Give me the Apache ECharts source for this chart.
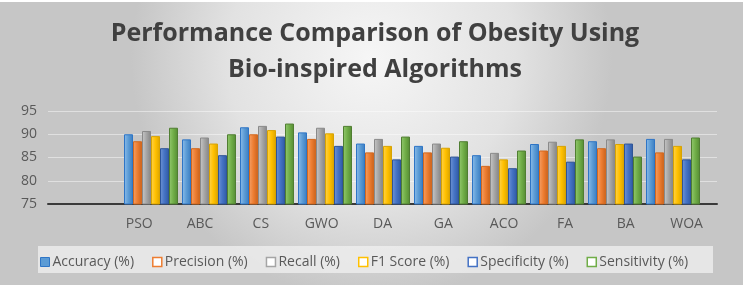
<!DOCTYPE html>
<html>
<head>
<meta charset="utf-8">
<script src="https://cdn.jsdelivr.net/npm/echarts@6/dist/echarts.min.js"></script>
<style>
  html, body { margin: 0; padding: 0; background: #fff; }
  #chart { width: 750px; height: 291px; }
</style>
</head>
<body>
<div id="chart"></div>
<script>
// categories
const algorithms = ['PSO', 'ABC', 'CS', 'GWO', 'DA', 'GA', 'ACO', 'FA', 'BA', 'WOA']
// values (%)
const accuracy    = [90.0, 88.9, 91.5, 90.4, 88.0, 87.5, 85.5, 87.9, 88.5, 89.0]
const precision   = [88.5, 87.0, 90.0, 89.0, 86.1, 86.1, 83.2, 86.5, 87.0, 86.1]
const recall      = [90.7, 89.3, 91.8, 91.4, 89.0, 88.0, 86.0, 88.4, 88.9, 89.0]
const f1Score     = [89.6, 88.0, 90.9, 90.2, 87.5, 87.1, 84.6, 87.5, 87.9, 87.5]
const specificity = [87.0, 85.5, 89.5, 87.5, 84.6, 85.2, 82.7, 84.1, 88.0, 84.6]
const sensitivity = [91.4, 90.0, 92.3, 91.8, 89.5, 88.5, 86.5, 88.9, 85.2, 89.3]
const yTicks = { min: 75, max: 95, interval: 5 }

const seriesList = [
  { name: 'Accuracy (%)',    data: accuracy,    c: ['#8dbdea', '#5b9bd5', '#3a7cc0'], border: '#2e75c6' },
  { name: 'Precision (%)',   data: precision,   c: ['#f5a066', '#ed7d31', '#c9621c'], border: '#d2691f' },
  { name: 'Recall (%)',      data: recall,      c: ['#c8c8c8', '#a5a5a5', '#858585'], border: '#8a8a8a' },
  { name: 'F1 Score (%)',    data: f1Score,     c: ['#ffd34d', '#ffc000', '#d9a300'], border: '#d9a300' },
  { name: 'Specificity (%)', data: specificity, c: ['#6f94d6', '#4472c4', '#2f5aa3'], border: '#2f5597' },
  { name: 'Sensitivity (%)', data: sensitivity, c: ['#93c96f', '#70ad47', '#548a33'], border: '#507e32' }
]

const font = 'Open Sans'
const chart = echarts.init(document.getElementById('chart'))

const option = {
  backgroundColor: '#fff',
  animation: false,
  graphic: [
    {
      type: 'rect', z: -10, silent: true,
      shape: { x: 0, y: 2, width: 743, height: 283 },
      style: {
        fill: new echarts.graphic.RadialGradient(0.5, 0.2, 0.85, [
          { offset: 0, color: '#f6f6f6' },
          { offset: 0.6, color: '#e2e2e2' },
          { offset: 1, color: '#c6c6c6' }
        ])
      }
    },
    {
      type: 'rect', z: -9, silent: true,
      shape: { x: 38, y: 246, width: 675, height: 27 },
      style: { fill: 'rgba(240,240,240,0.75)' }
    }
  ],
  title: {
    text: 'Performance Comparison of Obesity Using\nBio-inspired Algorithms',
    left: 'center',
    top: 11,
    textStyle: {
      fontFamily: font,
      fontWeight: 'bold',
      fontSize: 25,
      lineHeight: 36,
      color: '#404040'
    }
  },
  legend: {
    top: 250,
    left: 35,
    itemWidth: 9,
    itemHeight: 9,
    itemGap: 18,
    icon: 'rect',
    textStyle: { fontFamily: font, fontSize: 14, color: '#595959', padding: [0, 0, 0, -2] },
    data: seriesList.map((s, i) => ({
      name: s.name,
      itemStyle: i === 0
        ? { color: s.c[1], borderColor: s.border, borderWidth: 1 }
        : { color: '#fff', borderColor: s.c[1], borderWidth: 1.5 }
    }))
  },
  grid: [
    { left: 122, right: 48, top: 111, bottom: 87 },
    { left: 48, right: 33, top: 111, bottom: 87 }
  ],
  xAxis: [
    {
      type: 'category', gridIndex: 0, data: algorithms,
      axisLine: { show: false }, axisTick: { show: false }, axisLabel: { show: false }
    },
    {
      type: 'category', gridIndex: 1, data: [''].concat(algorithms),
      axisLine: { lineStyle: { color: '#3a3a3a', width: 2 } },
      axisTick: { show: false },
      axisLabel: { fontFamily: font, fontSize: 14, color: '#595959', margin: 13 }
    }
  ],
  yAxis: [
    {
      type: 'value', gridIndex: 0, min: yTicks.min, max: yTicks.max, interval: yTicks.interval,
      axisLine: { show: false }, axisTick: { show: false }, axisLabel: { show: false },
      splitLine: { show: false }
    },
    {
      type: 'value', gridIndex: 1, min: yTicks.min, max: yTicks.max, interval: yTicks.interval,
      axisLine: { show: false }, axisTick: { show: false },
      axisLabel: { fontFamily: font, fontSize: 14, color: '#595959', margin: 11 },
      splitLine: { lineStyle: { color: 'rgba(255,255,255,0.45)', width: 1 } }
    }
  ],
  series: seriesList.map(s => ({
    name: s.name,
    type: 'bar',
    xAxisIndex: 0,
    yAxisIndex: 0,
    barWidth: 9,
    barGap: '0%',
    data: s.data,
    itemStyle: {
      color: new echarts.graphic.LinearGradient(0, 0, 1, 0, [
        { offset: 0, color: s.c[0] },
        { offset: 0.5, color: s.c[1] },
        { offset: 1, color: s.c[2] }
      ]),
      borderColor: s.border,
      borderWidth: 1
    }
  }))
}

chart.setOption(option)
</script>
</body>
</html>
